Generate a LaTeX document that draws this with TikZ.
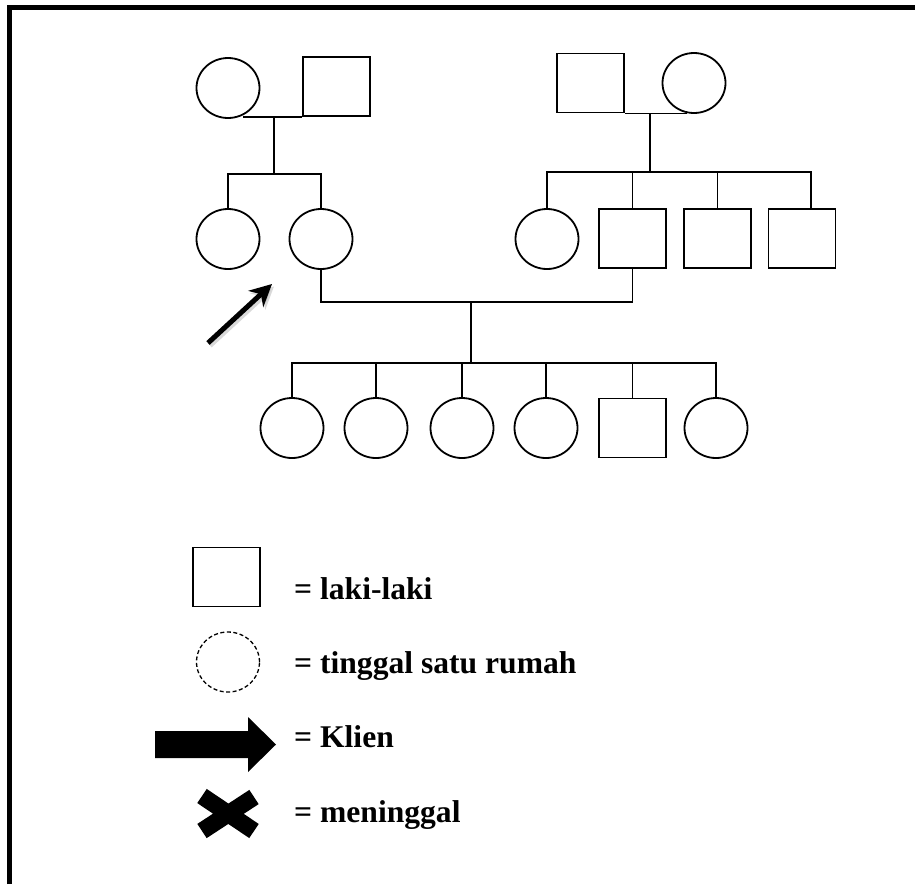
\documentclass[tikz,border=0pt]{standalone}
\usepackage{fontspec}
\setmainfont{Liberation Serif}
\usetikzlibrary{shapes.geometric,arrows.meta}
\begin{document}
\begin{tikzpicture}[x=1pt,y=-1pt,
  fem/.style={ellipse,draw,line width=1.8pt,minimum width=63pt,minimum height=60pt,inner sep=0pt},
  mal/.style={rectangle,draw,line width=1.8pt,minimum width=67pt,minimum height=59pt,inner sep=0pt},
  link/.style={line width=1.8pt},
  pointer/.style={line width=5pt,-{Stealth[length=22pt,width=22pt,inset=7pt]}},
  legtext/.style={anchor=base west,inner sep=0pt,font=\fontsize{31.6}{38}\selectfont\bfseries}]
\useasboundingbox (0,0) rectangle (915,884);

% outer frame
\draw[line width=4.5pt] (9.7,884) -- (9.7,7.7) -- (915,7.7);

% grandparents, mother's side
\node[fem] (gw1) at (228,88) {};
\node[mal] (gh1) at (336.5,86.5) {};
\coordinate (s1) at (274,174);
\draw[link] (gh1.south west) -- (gh1.south west -| gw1.-62);
\draw[link] (gh1.south west -| s1) -- (s1);

% mother and her sister
\node[fem] (a1) at (228,239) {};
\node[fem] (a2) at (321,239) {};
\draw[link] (a1.north) |- (s1) -| (a2.north);

% grandparents, father's side
\node[mal] (gh2) at (590.5,83) {};
\node[fem] (gw2) at (694,83) {};
\coordinate (s2) at (650,172);
\draw[link] (gh2.south east) -- (gh2.south east -| gw2.-103);
\draw[link] (gh2.south east -| s2) -- (s2);

% father and his siblings
\node[fem] (b1) at (547,239) {};
\node[mal] (b2) at (632.5,238.5) {};
\node[mal] (b3) at (717.5,238.5) {};
\node[mal] (b4) at (802,238.5) {};
\draw[link] (b1.north) |- (s2) -| ([xshift=9pt]b4.north);
\draw[link] (b2.north) -- (b2.north |- s2);
\draw[link] (b3.north) -- (b3.north |- s2);

% marriage and children
\coordinate (m) at (471,302);
\coordinate (s3) at (471,363);
\draw[link] (a2.south) |- (m) -| (b2.south);
\draw[link] (m) -- (s3);
\node[fem] (c1) at (292,428) {};
\node[fem] (c2) at (376,428) {};
\node[fem] (c3) at (462,428) {};
\node[fem] (c4) at (546,428) {};
\node[mal] (c5) at (632.5,428) {};
\node[fem] (c6) at (716,428) {};
\draw[link] (c1.north) |- (s3) -| (c6.north);
\foreach \c in {c2,c3,c4,c5}
  \draw[link] (\c.north) -- (\c.north |- s3);

% client pointer with its soft shadow
\coordinate (k0) at (208,343);
\coordinate (k1) at (272,284);
\draw[pointer,black!25,opacity=0.6] ([shift={(2,2.5)}]k0) -- ([shift={(2,2.5)}]k1);
\draw[pointer] (k0) -- (k1);

% legend
\node[mal] (ls) at (226.5,577) {};
\node[fem,line width=1.3pt,dash pattern=on 4pt off 2.5pt] (ld) at (228,662) {};
\fill (155,731) -- (248,731) -- (248,717) -- (276,744.5) -- (248,772) -- (248,758) -- (155,758) -- cycle;
\draw[line width=17pt] (202,796) -- (254,831) (254,797) -- (202,831);

\node[legtext] (t1) at (294,599) {= laki-laki};
\node[legtext] (t2) at (294,673) {= tinggal satu rumah};
\node[legtext] (t3) at (294,747) {= Klien};
\node[legtext] (t4) at (294,822) {= meninggal};
\end{tikzpicture}
\end{document}
